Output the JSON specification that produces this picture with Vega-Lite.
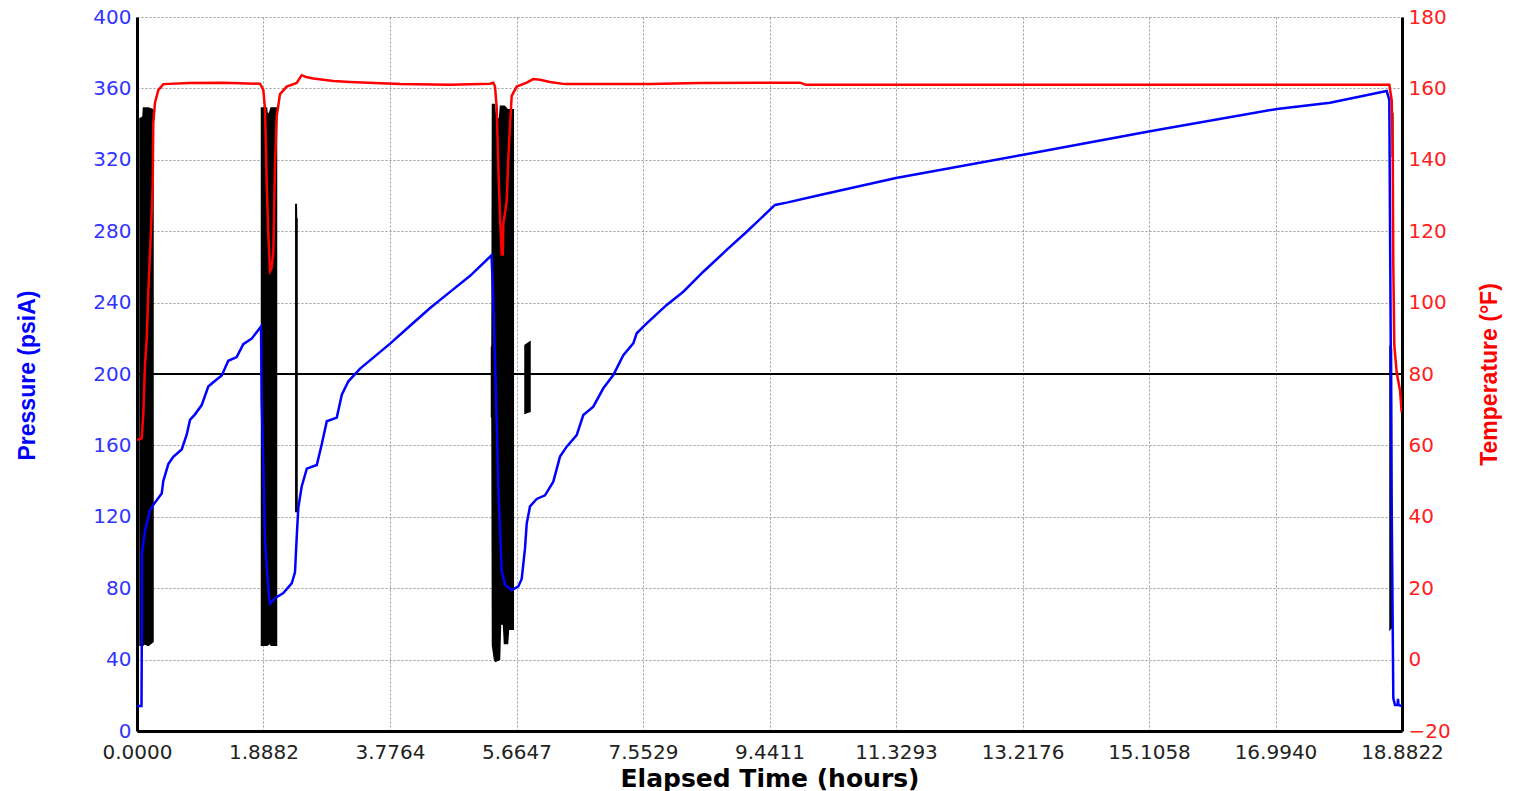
{
  "$schema": "https://vega.github.io/schema/vega-lite/v6.json",
  "width": 1265,
  "height": 714,
  "autosize": {"type": "none"},
  "padding": {"left": 137, "top": 17, "right": 111, "bottom": 60},
  "background": "white",
  "config": {"view": {"stroke": null}, "font": "DejaVu Sans"},
  "datasets": {
    "level": [{"psi": 200}],
    "aux": [
      {"seg": "b1", "t": 0.0448, "lo": 48, "hi": 343}, {"seg": "b1", "t": 0.0896, "lo": 48, "hi": 344}, {"seg": "b1", "t": 0.097, "lo": 49, "hi": 349},
      {"seg": "b1", "t": 0.17, "lo": 48, "hi": 349}, {"seg": "b1", "t": 0.2388, "lo": 50, "hi": 348},
      {"seg": "b2", "t": 1.8584, "lo": 48, "hi": 349}, {"seg": "b2", "t": 1.933, "lo": 48, "hi": 349}, {"seg": "b2", "t": 1.94, "lo": 48, "hi": 346},
      {"seg": "b2", "t": 1.9778, "lo": 49, "hi": 346}, {"seg": "b2", "t": 1.9853, "lo": 62, "hi": 347}, {"seg": "b2", "t": 1.9927, "lo": 62, "hi": 348},
      {"seg": "b2", "t": 2.0001, "lo": 48, "hi": 349}, {"seg": "b2", "t": 2.0823, "lo": 48, "hi": 349},
      {"seg": "b3", "t": 2.3704, "lo": 123, "hi": 295}, {"seg": "b3", "t": 2.3779, "lo": 123, "hi": 295}, {"seg": "b3", "t": 2.3808, "lo": 123, "hi": 287},
      {"seg": "b3", "t": 2.3883, "lo": 123, "hi": 287},
      {"seg": "b4", "t": 5.2915, "lo": 176, "hi": 215}, {"seg": "b4", "t": 5.299, "lo": 176, "hi": 215}, {"seg": "b4", "t": 5.3065, "lo": 48, "hi": 351},
      {"seg": "b4", "t": 5.3363, "lo": 40, "hi": 351}, {"seg": "b4", "t": 5.3512, "lo": 39, "hi": 343}, {"seg": "b4", "t": 5.411, "lo": 40, "hi": 343},
      {"seg": "b4", "t": 5.4259, "lo": 60, "hi": 350}, {"seg": "b4", "t": 5.4707, "lo": 60, "hi": 350}, {"seg": "b4", "t": 5.4856, "lo": 49, "hi": 350},
      {"seg": "b4", "t": 5.5304, "lo": 49, "hi": 348}, {"seg": "b4", "t": 5.5453, "lo": 57, "hi": 348}, {"seg": "b4", "t": 5.6169, "lo": 57, "hi": 348},
      {"seg": "b5", "t": 5.7916, "lo": 178, "hi": 216}, {"seg": "b5", "t": 5.8662, "lo": 179, "hi": 218},
      {"seg": "b6", "t": 18.7032, "lo": 57, "hi": 216}, {"seg": "b6", "t": 18.7256, "lo": 58, "hi": 214},
      {"seg": "b7", "t": 18.7375, "lo": 322, "hi": 346}, {"seg": "b7", "t": 18.745, "lo": 322, "hi": 346}
    ],
    "pressure": [
      {"t": 0, "psi": 14}, {"t": 0.0672, "psi": 14}, {"t": 0.0702, "psi": 40}, {"t": 0.0746, "psi": 99.8}, {"t": 0.1194, "psi": 112},
      {"t": 0.194, "psi": 123.6}, {"t": 0.2433, "psi": 126.7}, {"t": 0.3687, "psi": 133}, {"t": 0.3926, "psi": 140}, {"t": 0.4672, "psi": 149.5},
      {"t": 0.5418, "psi": 153.6}, {"t": 0.6672, "psi": 157.7}, {"t": 0.7418, "psi": 166}, {"t": 0.7911, "psi": 174.3}, {"t": 0.8657, "psi": 177.4},
      {"t": 0.9657, "psi": 182.6}, {"t": 1.0642, "psi": 193}, {"t": 1.1389, "psi": 195.4}, {"t": 1.2642, "psi": 199.2}, {"t": 1.3627, "psi": 207.4},
      {"t": 1.4881, "psi": 209.5}, {"t": 1.5866, "psi": 216.7}, {"t": 1.712, "psi": 219.8}, {"t": 1.851, "psi": 226.6}, {"t": 1.8614, "psi": 185},
      {"t": 1.8853, "psi": 150}, {"t": 1.9106, "psi": 106.6}, {"t": 1.9599, "psi": 79.5}, {"t": 1.9853, "psi": 71.3}, {"t": 2.0599, "psi": 74.4},
      {"t": 2.1838, "psi": 77.3}, {"t": 2.3092, "psi": 82.7}, {"t": 2.3584, "psi": 88.9}, {"t": 2.3838, "psi": 108.5}, {"t": 2.4077, "psi": 125},
      {"t": 2.4584, "psi": 137}, {"t": 2.5345, "psi": 147}, {"t": 2.6838, "psi": 149}, {"t": 2.7584, "psi": 160.8}, {"t": 2.8331, "psi": 173.5},
      {"t": 2.9823, "psi": 175.6}, {"t": 3.057, "psi": 188.4}, {"t": 3.1555, "psi": 195.9}, {"t": 3.3301, "psi": 203}, {"t": 3.554, "psi": 210},
      {"t": 3.7779, "psi": 217}, {"t": 4.0764, "psi": 227}, {"t": 4.375, "psi": 237}, {"t": 4.6735, "psi": 246}, {"t": 4.9721, "psi": 255},
      {"t": 5.2915, "psi": 266.5}, {"t": 5.3154, "psi": 245.6}, {"t": 5.3438, "psi": 208}, {"t": 5.3691, "psi": 172.8}, {"t": 5.393, "psi": 136.5},
      {"t": 5.4184, "psi": 113}, {"t": 5.4438, "psi": 89.5}, {"t": 5.493, "psi": 82}, {"t": 5.5931, "psi": 78.8}, {"t": 5.6916, "psi": 81},
      {"t": 5.7423, "psi": 85.2}, {"t": 5.7916, "psi": 102.3}, {"t": 5.817, "psi": 116.2}, {"t": 5.8662, "psi": 125.8}, {"t": 5.9663, "psi": 130},
      {"t": 6.0901, "psi": 132}, {"t": 6.214, "psi": 139.7}, {"t": 6.314, "psi": 153.7}, {"t": 6.414, "psi": 159.3}, {"t": 6.5633, "psi": 165.8},
      {"t": 6.6618, "psi": 177}, {"t": 6.811, "psi": 181.7}, {"t": 6.9603, "psi": 192}, {"t": 7.1096, "psi": 199.4}, {"t": 7.2589, "psi": 210.6},
      {"t": 7.4081, "psi": 217.2}, {"t": 7.4589, "psi": 222.8}, {"t": 7.6081, "psi": 228.4}, {"t": 7.9067, "psi": 238.7}, {"t": 8.1545, "psi": 246.1},
      {"t": 8.453, "psi": 257.3}, {"t": 8.8023, "psi": 269.5}, {"t": 9.1008, "psi": 279.7}, {"t": 9.5232, "psi": 294.7}, {"t": 9.6979, "psi": 296},
      {"t": 10.1949, "psi": 300.3}, {"t": 11.3293, "psi": 309.8}, {"t": 13.2101, "psi": 322.7}, {"t": 15.1208, "psi": 336}, {"t": 17.0164, "psi": 348.5},
      {"t": 17.8076, "psi": 352}, {"t": 18.6539, "psi": 358.5}, {"t": 18.6927, "psi": 353.6}, {"t": 18.7032, "psi": 285.9}, {"t": 18.7285, "psi": 125.8},
      {"t": 18.7525, "psi": 18.3}, {"t": 18.7778, "psi": 14.6}, {"t": 18.8151, "psi": 14.6}, {"t": 18.8226, "psi": 18}, {"t": 18.8301, "psi": 14.5},
      {"t": 18.8822, "psi": 14}
    ],
    "temp": [
      {"t": 0, "degF": 61.5}, {"t": 0.0702, "degF": 62}, {"t": 0.094, "degF": 68.7}, {"t": 0.1194, "degF": 82.7}, {"t": 0.1448, "degF": 89.9},
      {"t": 0.1687, "degF": 102.9}, {"t": 0.2045, "degF": 118.4}, {"t": 0.2343, "degF": 132.9}, {"t": 0.2433, "degF": 150.4}, {"t": 0.2687, "degF": 156},
      {"t": 0.3179, "degF": 159.5}, {"t": 0.3926, "degF": 161.2}, {"t": 0.7911, "degF": 161.5}, {"t": 1.2882, "degF": 161.6}, {"t": 1.836, "degF": 161.3},
      {"t": 1.8853, "degF": 159.6}, {"t": 1.9106, "degF": 154.3}, {"t": 1.936, "degF": 133.6}, {"t": 1.9599, "degF": 119.1}, {"t": 1.9853, "degF": 108.8},
      {"t": 2.0076, "degF": 109.5}, {"t": 2.0345, "degF": 114}, {"t": 2.0599, "degF": 138.8}, {"t": 2.0853, "degF": 152.2}, {"t": 2.1345, "degF": 158.4},
      {"t": 2.2345, "degF": 160.5}, {"t": 2.3838, "degF": 161.5}, {"t": 2.4584, "degF": 163.7}, {"t": 2.5226, "degF": 163.2}, {"t": 2.6316, "degF": 162.8},
      {"t": 2.9301, "degF": 162.1}, {"t": 3.1794, "degF": 161.8}, {"t": 3.9258, "degF": 161.2}, {"t": 4.6721, "degF": 161}, {"t": 5.2691, "degF": 161.3},
      {"t": 5.3184, "degF": 161.6}, {"t": 5.3438, "degF": 160.5}, {"t": 5.3691, "degF": 154.7}, {"t": 5.393, "degF": 138}, {"t": 5.4184, "degF": 124.2},
      {"t": 5.4438, "degF": 113.5}, {"t": 5.4602, "degF": 113.5}, {"t": 5.4677, "degF": 122}, {"t": 5.5184, "degF": 128.5}, {"t": 5.5423, "degF": 140.2},
      {"t": 5.5677, "degF": 149.8}, {"t": 5.5931, "degF": 157.9}, {"t": 5.6677, "degF": 160.5}, {"t": 5.817, "degF": 161.6}, {"t": 5.9155, "degF": 162.6},
      {"t": 6.0155, "degF": 162.4}, {"t": 6.1647, "degF": 161.8}, {"t": 6.3886, "degF": 161.2}, {"t": 7.6574, "degF": 161.2}, {"t": 8.4037, "degF": 161.5},
      {"t": 9.8964, "degF": 161.6}, {"t": 9.9859, "degF": 161}, {"t": 11.3891, "degF": 161}, {"t": 14.3744, "degF": 161}, {"t": 17.3598, "degF": 161},
      {"t": 18.6927, "degF": 161}, {"t": 18.7285, "degF": 156.7}, {"t": 18.7435, "degF": 143}, {"t": 18.7525, "degF": 110.4}, {"t": 18.7674, "degF": 88},
      {"t": 18.8032, "degF": 80.4}, {"t": 18.8525, "degF": 75.4}, {"t": 18.8779, "degF": 69.2}
    ]
  },
  "layer": [
    {
      "layer": [
        {
          "data": {"name": "aux"},
          "mark": {"type": "area", "color": "#000000", "stroke": "#000000", "strokeWidth": 1.5, "fillOpacity": 1, "clip": true},
          "encoding": {
            "x": {
              "field": "t", "type": "quantitative",
              "scale": {"domain": [0, 18.8822], "nice": false, "zero": false},
              "axis": {
                "values": [0, 1.8882, 3.7764, 5.6647, 7.5529, 9.4411, 11.3293, 13.2176, 15.1058, 16.994, 18.8822],
                "format": ".4f", "title": "Elapsed Time (hours)",
                "ticks": false, "labelPadding": 11, "labelFlush": false, "labelOverlap": false,
                "labelFont": "DejaVu Sans", "labelFontSize": 20, "labelColor": "#222222",
                "titleFont": "DejaVu Sans", "titleFontSize": 25, "titleFontWeight": "bold", "titleColor": "#000000",
                "titleY": 47, "titleBaseline": "middle",
                "domainColor": "#000000", "domainWidth": 3,
                "grid": true, "gridColor": "#9a9a9a", "gridDash": [2, 2], "gridWidth": 1
              }
            },
            "y": {
              "field": "hi", "type": "quantitative",
              "scale": {"domain": [0, 400], "nice": false, "zero": false},
              "axis": {
                "values": [0, 40, 80, 120, 160, 200, 240, 280, 320, 360, 400],
                "title": "Pressure (psiA)",
                "ticks": false, "labelPadding": 6, "labelOverlap": false, "labelFlush": false,
                "labelFont": "DejaVu Sans", "labelFontSize": 20, "labelColor": "#3333ff",
                "titleFont": "Liberation Sans", "titleFontSize": 23, "titleFontWeight": "bold", "titleColor": "#0000ff",
                "titleX": -110, "titleY": 358, "titleAngle": -90, "titleBaseline": "middle", "titleAlign": "center",
                "domainColor": "#000000", "domainWidth": 3,
                "grid": true, "gridColor": "#9a9a9a", "gridDash": [2, 2], "gridWidth": 1
              }
            },
            "y2": {"field": "lo"},
            "detail": {"field": "seg", "type": "nominal"}
          }
        },
        {
          "data": {"name": "level"},
          "mark": {"type": "rule", "color": "#000000", "strokeWidth": 2},
          "encoding": {
            "y": {"field": "psi", "type": "quantitative"}
          }
        },
        {
          "data": {"name": "pressure"},
          "mark": {"type": "line", "color": "#0000ff", "strokeWidth": 2.5, "clip": true},
          "encoding": {
            "x": {"field": "t", "type": "quantitative"},
            "y": {"field": "psi", "type": "quantitative"}
          }
        }
      ]
    },
    {
      "data": {"name": "temp"},
      "mark": {"type": "line", "color": "#ff0000", "strokeWidth": 2.5, "clip": true},
      "encoding": {
        "x": {"field": "t", "type": "quantitative"},
        "y": {
          "field": "degF", "type": "quantitative",
          "scale": {"domain": [-20, 180], "nice": false, "zero": false},
          "axis": {
            "orient": "right",
            "values": [-20, 0, 20, 40, 60, 80, 100, 120, 140, 160, 180],
            "title": "Temperature (°F)",
            "ticks": false, "labelPadding": 6, "labelOverlap": false, "labelFlush": false,
            "labelFont": "DejaVu Sans", "labelFontSize": 20, "labelColor": "#ff2020",
            "titleFont": "Liberation Sans", "titleFontSize": 23, "titleFontWeight": "bold", "titleColor": "#ff0000",
            "titleX": 87, "titleY": 357, "titleAngle": -90, "titleBaseline": "middle", "titleAlign": "center",
            "domainColor": "#000000", "domainWidth": 3,
            "grid": false
          }
        }
      }
    }
  ],
  "resolve": {"scale": {"y": "independent"}}
}
